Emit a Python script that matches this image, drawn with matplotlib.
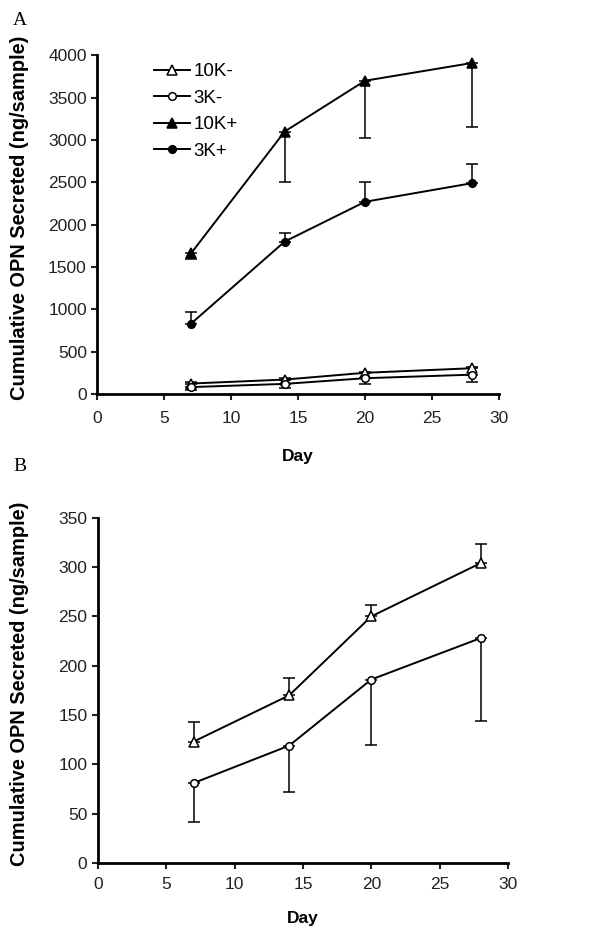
import numpy as np
import matplotlib.pyplot as plt

plt.rcParams['font.family'] = ['Liberation Sans', 'DejaVu Sans']

# jours de prelevement
days = [7, 14, 20, 28]

# OPN cumule (ng/echantillon)
k10_minus = [123, 170, 250, 304]
k10_minus_err = [20, 18, 12, 19]      # barre vers le haut
k3_minus = [81, 119, 186, 228]
k3_minus_err = [39, 47, 66, 84]       # barre vers le bas
k10_plus = [1660, 3100, 3700, 3910]
k10_plus_err = [70, 600, 680, 760]    # barre vers le bas
k3_plus = [830, 1800, 2270, 2490]
k3_plus_err = [140, 100, 230, 230]    # barre vers le haut

y_label = 'Cumulative OPN Secreted (ng/sample)'


def style_axes(ax, ymax, ystep, lab_x, xpad, day_pad):
    ax.set_xlim(0, 30)
    ax.set_ylim(0, ymax)
    ax.set_xticks(np.arange(0, 31, 5))
    ax.set_yticks(np.arange(0, ymax + 1, ystep))
    ax.spines['top'].set_visible(False)
    ax.spines['right'].set_visible(False)
    ax.spines['left'].set_linewidth(2)
    ax.spines['bottom'].set_linewidth(2)
    ax.tick_params(direction='out', length=4, width=1.5, labelsize=12.5, colors='#222222')
    ax.tick_params(axis='x', pad=xpad)
    ax.set_xlabel('Day', fontsize=12.5, fontweight='bold', labelpad=day_pad)
    ax.set_ylabel(y_label, fontsize=14.4, fontweight='bold')
    ax.yaxis.set_label_coords(lab_x, 0.52)


def draw(ax, y, err, up, marker, face, label):
    ms = 6.5 if marker == '^' else 5.5
    ax.plot(days, y, color='black', lw=1.4, marker=marker, ms=ms,
            mfc=face, mec='black', mew=1.1, label=label, zorder=3)
    e = [np.zeros(4), err] if up else [err, np.zeros(4)]
    ax.errorbar(days, y, yerr=e, fmt='none', ecolor='black', elinewidth=1.1,
                capsize=4, capthick=1.1, zorder=2)


fig = plt.figure(figsize=(6.04, 9.38), dpi=100)

# panneau A
ax1 = fig.add_axes([0.161, 0.580, 0.665, 0.361])
draw(ax1, k10_minus, k10_minus_err, True, '^', 'white', '10K-')
draw(ax1, k3_minus, k3_minus_err, False, 'o', 'white', '3K-')
draw(ax1, k10_plus, k10_plus_err, False, '^', 'black', '10K+')
draw(ax1, k3_plus, k3_plus_err, True, 'o', 'black', '3K+')
style_axes(ax1, 4000, 500, -0.169, 8, 17)
ax1.legend(loc='upper left', bbox_to_anchor=(0.10, 1.027), frameon=False,
           fontsize=13.5, handlelength=1.9, handletextpad=0.2, labelspacing=0.5)

# panneau B
ax2 = fig.add_axes([0.162, 0.080, 0.679, 0.368])
draw(ax2, k10_minus, k10_minus_err, True, '^', 'white', '10K-')
draw(ax2, k3_minus, k3_minus_err, False, 'o', 'white', '3K-')
style_axes(ax2, 350, 50, -0.168, 6, 14)

fig.text(0.022, 0.978, 'A', fontsize=14, family='Liberation Serif', va='center')
fig.text(0.022, 0.503, 'B', fontsize=14, family='Liberation Serif', va='center')

plt.savefig('out.png', dpi=100)
